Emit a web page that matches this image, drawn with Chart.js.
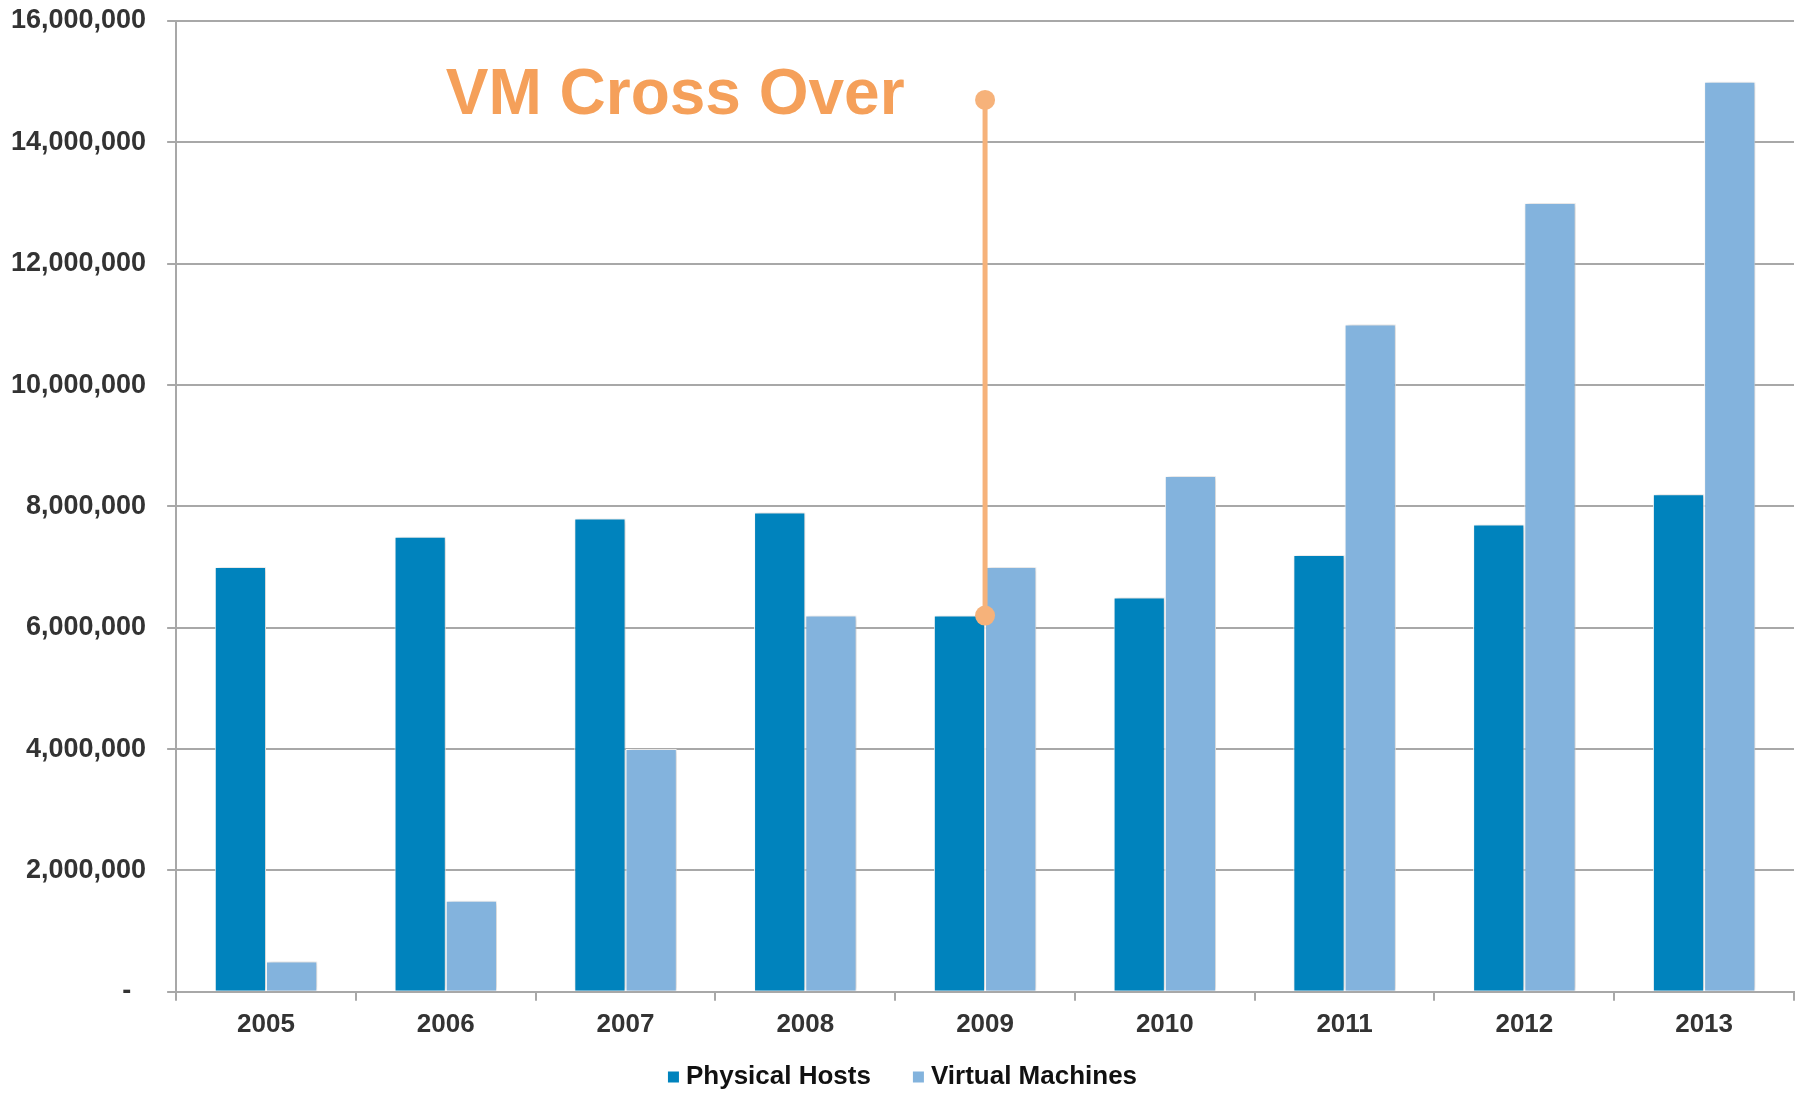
<!DOCTYPE html>
<html>
<head>
<meta charset="utf-8">
<script src="https://cdn.jsdelivr.net/npm/chart.js@4/dist/chart.umd.min.js"></script>
<style>
  html, body { margin: 0; padding: 0; background: #fff; }
  #wrap { width: 1805px; height: 1094px; }
</style>
</head>
<body>
<div id="wrap"><canvas id="chart"></canvas></div>
<script>
// Data
const years = ['2005', '2006', '2007', '2008', '2009', '2010', '2011', '2012', '2013'];
const physicalHosts = [7000000, 7500000, 7800000, 7900000, 6200000, 6500000, 7200000, 7700000, 8200000];
const virtualMachines = [500000, 1500000, 4000000, 6200000, 7000000, 8500000, 11000000, 13000000, 15000000];
const yTicks = [0, 2000000, 4000000, 6000000, 8000000, 10000000, 12000000, 14000000, 16000000];

// Cross over marker: category and value range of the vertical line
const crossOverYear = '2009';
const crossOverRange = [6200000, 14700000];
const crossOverLabel = 'VM Cross Over';
const crossOverLabelAt = { year: '2006', value: 14750000 };

const FONT = '"Liberation Sans", Arial, sans-serif';

// soft shadow behind the bars
const barShadow = {
  id: 'barShadow',
  beforeDatasetsDraw(chart) {
    const ctx = chart.ctx;
    ctx.save();
    ctx.shadowColor = 'rgba(0, 0, 0, 0.22)';
    ctx.shadowBlur = 5;
    ctx.shadowOffsetX = 2;
    ctx.shadowOffsetY = 0;
  },
  afterDatasetsDraw(chart) {
    chart.ctx.restore();
  }
};

// vertical orange line with dots and the caption
const crossOver = {
  id: 'crossOver',
  afterDatasetsDraw(chart) {
    const ctx = chart.ctx;
    const x = chart.scales.x;
    const y = chart.scales.y;
    const cx = x.getPixelForValue(years.indexOf(crossOverYear));
    const y1 = y.getPixelForValue(crossOverRange[0]);
    const y2 = y.getPixelForValue(crossOverRange[1]);

    ctx.save();
    ctx.strokeStyle = '#F6B27A';
    ctx.fillStyle = '#F6B27A';
    ctx.lineWidth = 5;
    ctx.beginPath();
    ctx.moveTo(cx, y1);
    ctx.lineTo(cx, y2);
    ctx.stroke();
    [y1, y2].forEach(py => {
      ctx.beginPath();
      ctx.arc(cx, py, 10, 0, Math.PI * 2);
      ctx.fill();
    });

    const lx = x.getPixelForValue(years.indexOf(crossOverLabelAt.year));
    const ly = y.getPixelForValue(crossOverLabelAt.value);
    ctx.font = 'bold 64px ' + FONT;
    ctx.fillStyle = '#F5A05A';
    ctx.textAlign = 'left';
    ctx.textBaseline = 'middle';
    ctx.fillText(crossOverLabel, lx, ly);
    ctx.restore();
  }
};

// legend drawn by hand: small square, tight gap to text, wide gap between items
const bottomLegend = {
  id: 'bottomLegend',
  afterDraw(chart) {
    const ctx = chart.ctx;
    const box = 11, gap = 7, itemGap = 42;
    ctx.save();
    ctx.font = 'bold 26px ' + FONT;
    ctx.textBaseline = 'middle';
    const items = chart.data.datasets.map(ds => ({
      text: ds.label,
      color: ds.backgroundColor,
      w: box + gap + ctx.measureText(ds.label).width
    }));
    const total = items.reduce((s, it) => s + it.w, 0) + itemGap * (items.length - 1);
    let x = (chart.width - total) / 2;
    const cy = chart.height - 17;
    items.forEach(it => {
      ctx.fillStyle = it.color;
      ctx.fillRect(x, cy - box / 2, box, box);
      ctx.fillStyle = '#111';
      ctx.fillText(it.text, x + box + gap, cy);
      x += it.w + itemGap;
    });
    ctx.restore();
  }
};

const ctx = document.getElementById('chart').getContext('2d');
new Chart(ctx, {
  type: 'bar',
  data: {
    labels: years,
    datasets: [
      {
        label: 'Physical Hosts',
        data: physicalHosts,
        backgroundColor: '#0083BD',
        borderColor: '#ffffff',
        borderWidth: 1
      },
      {
        label: 'Virtual Machines',
        data: virtualMachines,
        backgroundColor: '#83B3DD',
        borderColor: '#ffffff',
        borderWidth: 1
      }
    ]
  },
  options: {
    responsive: true,
    maintainAspectRatio: false,
    animation: false,
    devicePixelRatio: 1,
    categoryPercentage: 0.57,
    barPercentage: 1,
    layout: {
      padding: { left: 11, right: 11, top: 21, bottom: 46 }
    },
    plugins: {
      tooltip: { enabled: false },
      legend: { display: false }
    },
    scales: {
      x: {
        grid: {
          drawOnChartArea: false,
          drawTicks: true,
          tickLength: 9,
          color: '#A8A8A8',
          lineWidth: 2,
          offset: true
        },
        border: { color: '#A8A8A8', width: 2 },
        ticks: {
          color: '#333',
          padding: 8,
          font: { family: FONT, size: 26, weight: 'bold' }
        }
      },
      y: {
        min: 0,
        max: 16000000,
        afterBuildTicks(axis) {
          axis.ticks = yTicks.map(v => ({ value: v }));
        },
        grid: {
          color: '#A8A8A8',
          lineWidth: 2,
          // long tick so the labels sit 21px off; only the 9px next to the axis is drawn
          tickLength: 30,
          tickBorderDash: [9, 21],
          tickBorderDashOffset: 9
        },
        border: { color: '#A8A8A8', width: 2 },
        ticks: {
          color: '#333',
          padding: 0,
          font: { family: FONT, size: 27, weight: 'bold' },
          callback: v => v === 0 ? '-  ' : v.toLocaleString('en-US')
        }
      }
    }
  },
  plugins: [barShadow, crossOver, bottomLegend]
});
</script>
</body>
</html>
